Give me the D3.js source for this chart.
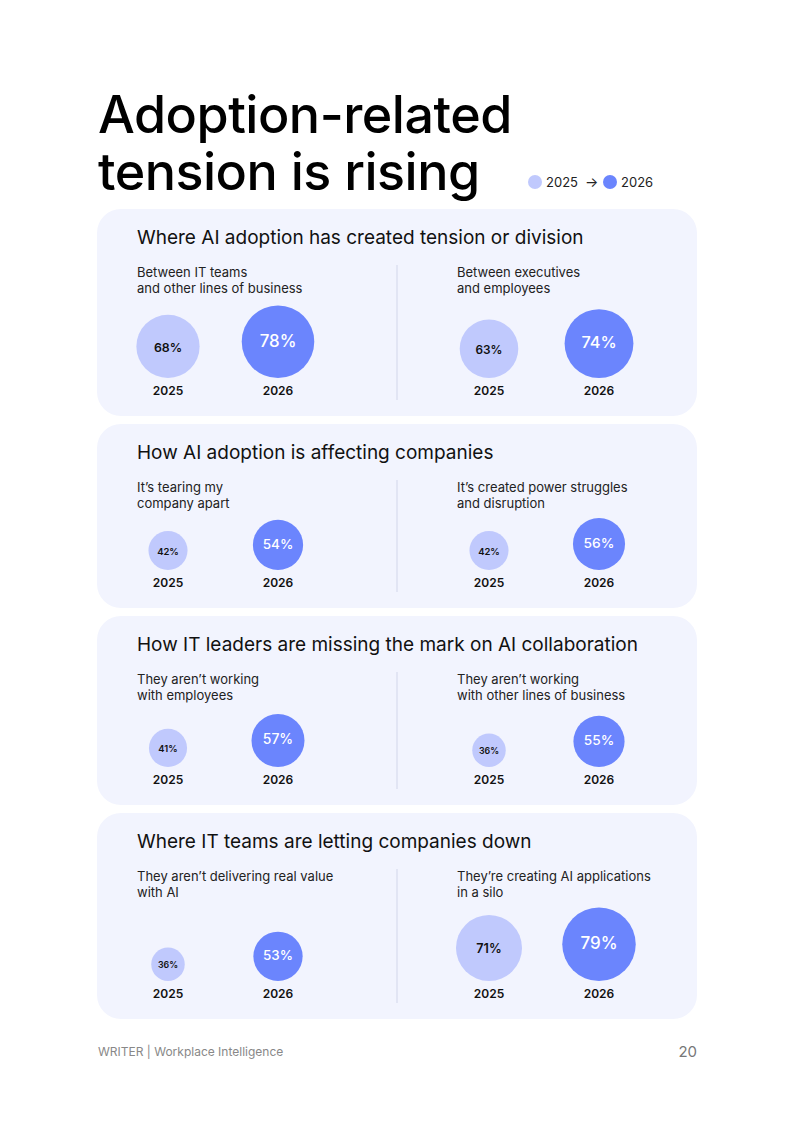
<!DOCTYPE html>
<html><head><meta charset="utf-8">
<script src="https://cdn.jsdelivr.net/npm/d3@7"></script>
<style>body{margin:0;background:#fff}svg{display:block;font-family:Inter,"Noto Sans",sans-serif}</style>
</head><body>
<script>
const sectionTitles = [
  "Where AI adoption has created tension or division",
  "How AI adoption is affecting companies",
  "How IT leaders are missing the mark on AI collaboration",
  "Where IT teams are letting companies down"
];
const itemLabels = [
  [["Between IT teams", "and other lines of business"], ["Between executives", "and employees"]],
  [["It’s tearing my", "company apart"], ["It’s created power struggles", "and disruption"]],
  [["They aren’t working", "with employees"], ["They aren’t working", "with other lines of business"]],
  [["They aren’t delivering real value", "with AI"], ["They’re creating AI applications", "in a silo"]]
];
const values2025 = [[68, 63], [42, 42], [41, 36], [36, 71]];
const values2026 = [[78, 74], [54, 56], [57, 55], [53, 79]];
const years = ["2025", "2026"];

const W = 793, H = 1122;
const light = "#c0c9fd", dark = "#6b85fd";
const svg = d3.select("body").append("svg").attr("width", W).attr("height", H);

// title
svg.append("text").attr("x", 98).attr("font-size", 52).attr("font-weight", 500).attr("fill", "#000")
  .selectAll("tspan").data(["Adoption-related", "tension is rising"]).join("tspan")
  .attr("x", 98).attr("y", (d, i) => 133 + i * 57).attr("letter-spacing", -0.5).text(d => d);

// legend
const lg = svg.append("g").attr("transform", "translate(535,182)");
lg.append("circle").attr("r", 7).attr("fill", light);
lg.append("text").attr("x", 11).attr("y", 5).attr("font-size", 13).attr("fill", "#222").text(years[0]);
lg.append("text").attr("x", 50).attr("y", 5).attr("font-size", 14).attr("fill", "#222").text("→");
lg.append("circle").attr("cx", 75).attr("r", 7).attr("fill", dark);
lg.append("text").attr("x", 86).attr("y", 5).attr("font-size", 13).attr("fill", "#222").text(years[1]);

const r = d3.scaleLinear().domain([0, 100]).range([0, 46.5]);
const fs = d3.scaleLinear().domain([36, 79]).range([11, 17]);
const panelTop = [209, 424, 616, 813];
const panelH = [207, 184, 189, 206];
const colX = [[168, 278], [489, 599]];

sectionTitles.forEach((t, p) => {
  const g = svg.append("g").attr("transform", `translate(0,${panelTop[p]})`);
  const h = panelH[p];
  g.append("rect").attr("x", 97).attr("width", 600).attr("height", h).attr("rx", 24).attr("fill", "#f2f4fe");
  g.append("text").attr("x", 137).attr("y", 35).attr("font-size", 19).attr("fill", "#111").text(t);
  g.append("line").attr("x1", 397).attr("x2", 397).attr("y1", 56).attr("y2", h - 16)
    .attr("stroke", "#dde1f0").attr("stroke-width", 1.5);
  const labelY = h - 25, baseY = labelY - 13;
  [0, 1].forEach(c => {
    const x0 = c === 0 ? 137 : 457;
    g.append("text").attr("font-size", 13).attr("fill", "#222")
      .selectAll("tspan").data(itemLabels[p][c]).join("tspan")
      .attr("x", x0).attr("y", (d, i) => 68 + i * 16).text(d => d);
    const vals = [values2025[p][c], values2026[p][c]];
    vals.forEach((v, k) => {
      const cx = colX[c][k], rr = r(v), cy = baseY - rr;
      g.append("circle").attr("cx", cx).attr("cy", cy).attr("r", rr).attr("fill", k ? dark : light);
      g.append("text").attr("x", cx).attr("y", cy - (k ? 1 : -1)).attr("dy", "0.35em").attr("text-anchor", "middle")
        .attr("font-size", k ? fs(v) : fs(v) * 0.8).attr("font-weight", k ? 500 : 600)
        .attr("fill", k ? "#fff" : "#111").text(v + "%");
      g.append("text").attr("x", cx).attr("y", labelY).attr("dy", "0.35em").attr("text-anchor", "middle")
        .attr("font-size", 12).attr("font-weight", 600).attr("fill", "#111").text(years[k]);
    });
  });
});

// footer
svg.append("text").attr("x", 98).attr("y", 1056).attr("font-size", 12).attr("fill", "#888").text("WRITER | Workplace Intelligence");
svg.append("text").attr("x", 697).attr("y", 1057).attr("text-anchor", "end").attr("font-size", 15).attr("fill", "#777").text("20");
</script>
</body></html>
